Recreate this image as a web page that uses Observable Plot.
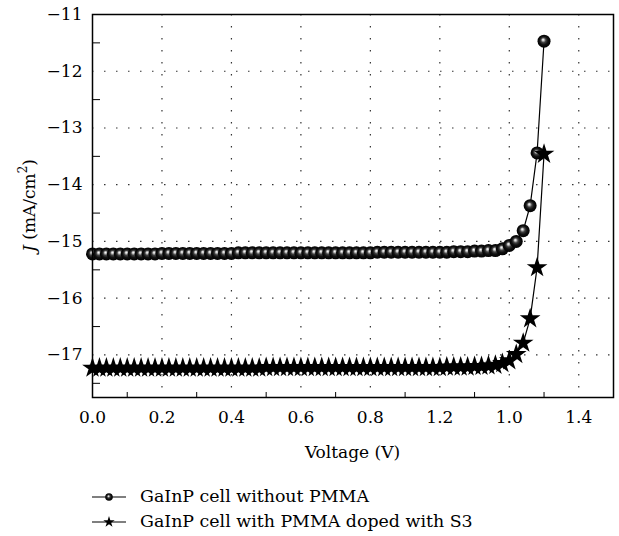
<!DOCTYPE html>
<html><head><meta charset="utf-8">
<script src="https://cdn.jsdelivr.net/npm/d3@7"></script>
<script src="https://cdn.jsdelivr.net/npm/@observablehq/plot@0.6"></script>
<style>
body{margin:0;background:#fff;}
#wrap{position:relative;width:619px;height:536px;overflow:hidden;}
svg text{font-family:"DejaVu Serif",serif !important;}
</style></head><body><div id="wrap"></div>
<script>
const voltage = [0.00,0.02,0.04,0.06,0.08,0.10,0.12,0.14,0.16,0.18,0.20,0.22,0.24,0.26,0.28,0.30,0.32,0.34,0.36,0.38,0.40,0.42,0.44,0.46,0.48,0.50,0.52,0.54,0.56,0.58,0.60,0.62,0.64,0.66,0.68,0.70,0.72,0.74,0.76,0.78,0.80,0.82,0.84,0.86,0.88,0.90,0.92,0.94,0.96,0.98,1.00,1.02,1.04,1.06,1.08,1.10,1.12,1.14,1.16,1.18,1.20,1.22,1.24,1.26,1.28,1.30];
const jWithoutPMMA = [-15.22,-15.22,-15.22,-15.22,-15.22,-15.22,-15.22,-15.22,-15.22,-15.22,-15.21,-15.21,-15.21,-15.21,-15.21,-15.21,-15.21,-15.21,-15.21,-15.21,-15.21,-15.20,-15.20,-15.20,-15.20,-15.20,-15.20,-15.20,-15.20,-15.20,-15.20,-15.20,-15.20,-15.20,-15.20,-15.20,-15.20,-15.20,-15.20,-15.20,-15.20,-15.19,-15.19,-15.19,-15.19,-15.19,-15.19,-15.19,-15.19,-15.19,-15.19,-15.19,-15.18,-15.18,-15.18,-15.17,-15.17,-15.16,-15.16,-15.13,-15.07,-15.00,-14.81,-14.37,-13.44,-11.47];
const jWithS3 = [-17.23,-17.23,-17.23,-17.23,-17.23,-17.23,-17.23,-17.23,-17.23,-17.23,-17.23,-17.23,-17.23,-17.23,-17.23,-17.23,-17.23,-17.23,-17.23,-17.23,-17.23,-17.23,-17.23,-17.23,-17.23,-17.22,-17.22,-17.22,-17.22,-17.22,-17.22,-17.22,-17.22,-17.22,-17.22,-17.22,-17.22,-17.22,-17.22,-17.22,-17.22,-17.22,-17.22,-17.22,-17.22,-17.22,-17.22,-17.22,-17.22,-17.22,-17.22,-17.21,-17.21,-17.21,-17.21,-17.20,-17.20,-17.19,-17.18,-17.15,-17.10,-16.99,-16.79,-16.36,-15.46,-13.46];
const seriesNames = ["GaInP cell without PMMA", "GaInP cell with PMMA doped with S3"];
const xTicks = [0.0,0.2,0.4,0.6,0.8,1.0,1.2,1.4];
const xTickLabels = ["0.0","0.2","0.4","0.6","0.8","1.2","1.0","1.4"];
const xMinorTicks = [0.1,0.3,0.5,0.7,0.9,1.1,1.3];
const yTicks = [-11,-12,-13,-14,-15,-16,-17];
const yMinorTicks = [-11.5,-12.5,-13.5,-14.5,-15.5,-16.5,-17.5];
const xDomain = [0, 1.5];
const yDomain = [-17.75, -11];

const rowsA = voltage.map((v,i)=>({v, j: jWithoutPMMA[i]}));
const rowsB = voltage.map((v,i)=>({v, j: jWithS3[i]}));

const FONT = "'DejaVu Serif', serif";
const W = 619, H = 470;
const plot = Plot.plot({
  width: W, height: H,
  marginTop: 14, marginBottom: 73, marginLeft: 92, marginRight: 6,
  style: {fontFamily: FONT, fontSize: "17px", color: "black", background: "white"},
  x: {domain: xDomain},
  y: {domain: yDomain},
  marks: [
    Plot.gridX(xTicks.slice(1), {stroke: "#333", strokeOpacity: 1, strokeWidth: 1.2, strokeDasharray: "1.5,10.5"}),
    Plot.gridY(yTicks.slice(1), {stroke: "#333", strokeOpacity: 1, strokeWidth: 1.2, strokeDasharray: "1.5,10.5"}),
    Plot.axisX(xTicks, {tickSize: 0, tickPadding: 13, tickFormat: d => xTickLabels[xTicks.indexOf(d)], label: null}),
    Plot.axisX(xMinorTicks, {tickSize: -5, tickFormat: () => "", label: null}),
    Plot.axisY(yTicks, {tickSize: 0, tickPadding: 10, tickFormat: d3.format("d"), label: null}),
    Plot.axisY(yMinorTicks, {tickSize: -8, tickFormat: () => "", label: null}),
    Plot.line(rowsA, {x: "v", y: "j", stroke: "black", strokeWidth: 1.2}),
    Plot.line(rowsB, {x: "v", y: "j", stroke: "black", strokeWidth: 1.2}),
    Plot.dot(rowsA, {x: "v", y: "j", r: 6.5, fill: "url(#sphere)", stroke: "none"}),
    Plot.dot(rowsB, {x: "v", y: "j", symbol: "star", r: 6.5, fill: "black", stroke: "none"}),
    Plot.frame({stroke: "black", strokeWidth: 1.5})
  ]
});

const svg = d3.select(plot);
svg.insert("defs", ":first-child").html(
  `<radialGradient id="sphere" cx="0.5" cy="0.5" r="0.5" fx="0.42" fy="0.38">
     <stop offset="0" stop-color="#ffffff"/>
     <stop offset="0.14" stop-color="#cccccc"/>
     <stop offset="0.38" stop-color="#404040"/>
     <stop offset="0.65" stop-color="#101010"/>
     <stop offset="1" stop-color="#000"/>
   </radialGradient>`);
const yl = svg.append("text")
  .attr("transform", `translate(30,${(14 + (H - 73)) / 2}) rotate(-90)`)
  .attr("text-anchor", "middle").attr("dominant-baseline", "middle")
  .attr("font-size", 17).attr("fill", "black");
yl.append("tspan").attr("font-style", "italic").text("J");
yl.append("tspan").text(" (mA/cm");
yl.append("tspan").attr("font-size", 12).attr("dy", -7).text("2");
yl.append("tspan").attr("dy", 7).text(")");
svg.append("text")
  .attr("x", (92 + W - 6) / 2).attr("y", 458)
  .attr("text-anchor", "middle")
  .attr("font-size", 17).attr("fill", "black")
  .text("Voltage (V)");

const wrap = document.getElementById("wrap");
wrap.appendChild(plot);

const lg = d3.create("svg").attr("width", W).attr("height", 66)
  .style("position", "absolute").style("left", "0px").style("top", H + "px");
[0, 1].forEach(k => {
  const cy = 27 + k * 25;
  const g = lg.append("g");
  g.append("line").attr("x1", 92).attr("x2", 126).attr("y1", cy).attr("y2", cy).attr("stroke", "black").attr("stroke-width", 1.2);
  if (k === 0) g.append("circle").attr("cx", 109).attr("cy", cy).attr("r", 3.8).attr("fill", "url(#sphere)");
  else g.append("path").attr("transform", `translate(109,${cy})`).attr("d", d3.symbol(d3.symbolStar, 40)()).attr("fill", "black");
  g.append("text").attr("x", 140).attr("y", cy).attr("dominant-baseline", "middle")
    .attr("font-size", 17.4).attr("fill", "black")
    .text(seriesNames[k]);
});
wrap.appendChild(lg.node());
</script></body></html>
